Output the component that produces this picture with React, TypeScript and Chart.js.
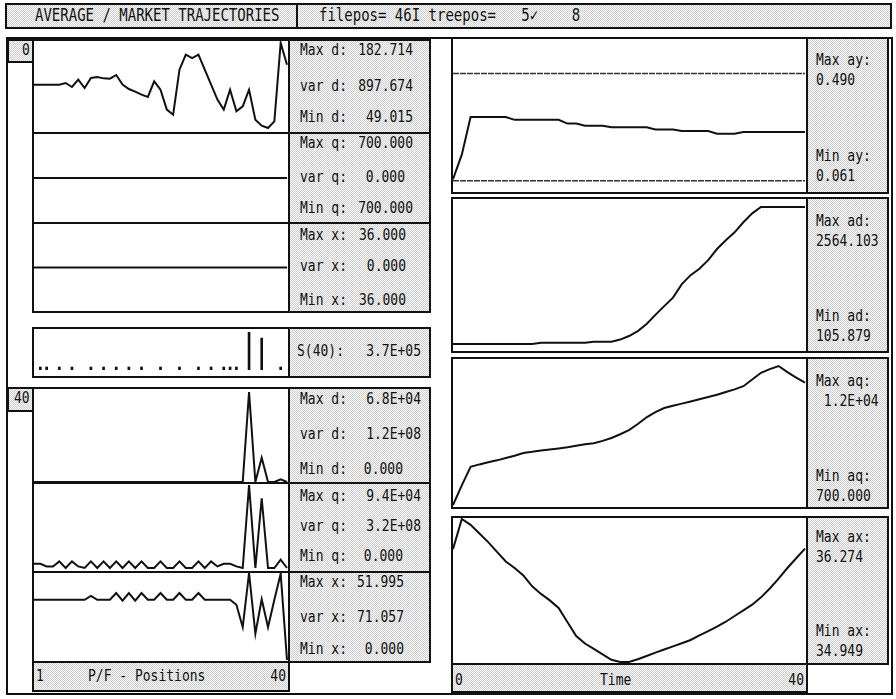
import React, { useEffect, useRef } from "react";
import { Chart, registerables } from "chart.js";

Chart.register(...registerables);

// ---------- data ----------
const POSITIONS = [0, 1, 2, 3, 4, 5, 6, 7, 8, 9, 10, 11, 12, 13, 14, 15, 16, 17, 18, 19, 20, 21, 22, 23, 24, 25, 26, 27, 28, 29, 30, 31, 32, 33, 34, 35, 36, 37, 38, 39, 40];
const TIME = [0, 1, 2, 3, 4, 5, 6, 7, 8, 9, 10, 11, 12, 13, 14, 15, 16, 17, 18, 19, 20, 21, 22, 23, 24, 25, 26, 27, 28, 29, 30, 31, 32, 33, 34, 35, 36, 37, 38, 39, 40];

// average trajectories per position (upper left block)
const AVG_D = [117.2, 117.2, 117.2, 117.2, 117.2, 119.8, 113.5, 125, 111.9, 127.7, 129.2, 127.1, 126.6, 132.4, 117.2, 110.3, 106.2, 101.4, 97.8, 122.4, 109.3, 77.9, 70, 140.8, 164.4, 159.1, 164.4, 140.8, 117.2, 93.6, 77.9, 109.3, 75.2, 83.1, 109.3, 62.1, 52.7, 49.015, 59.5, 182.714, 148.6];
const AVG_Q = [700, 700, 700, 700, 700, 700, 700, 700, 700, 700, 700, 700, 700, 700, 700, 700, 700, 700, 700, 700, 700, 700, 700, 700, 700, 700, 700, 700, 700, 700, 700, 700, 700, 700, 700, 700, 700, 700, 700, 700, 700];
const AVG_X = [36, 36, 36, 36, 36, 36, 36, 36, 36, 36, 36, 36, 36, 36, 36, 36, 36, 36, 36, 36, 36, 36, 36, 36, 36, 36, 36, 36, 36, 36, 36, 36, 36, 36, 36, 36, 36, 36, 36, 36, 36];

// S(40) distribution
const S_POS = [1, 2, 4, 6, 9, 11, 13, 15, 17, 20, 23, 26, 28, 30, 31, 32, 34, 36, 39];
const S_VAL = [5000, 5000, 5000, 5000, 5000, 5000, 5000, 5000, 5000, 5000, 5000, 5000, 5000, 5000, 5000, 5000, 150000, 126000, 5000];

// market positions at t = 40 (lower left block)
const POS_D = [0, 0, 0, 0, 0, 0, 0, 0, 0, 0, 0, 0, 0, 0, 0, 0, 0, 0, 0, 0, 0, 0, 0, 0, 0, 0, 0, 0, 0, 0, 0, 0, 0, 0, 68000, 0, 18400, 0, 0, 2000, 0];
const POS_Q = [4850, 4850, 1800, 1800, 7450, 0, 7450, 1800, 0, 7450, 0, 7450, 0, 7450, 0, 7450, 0, 7450, 0, 0, 7450, 0, 0, 7450, 0, 0, 7450, 0, 7450, 1800, 4850, 4850, 1800, 0, 94000, 0, 79000, 0, 0, 9400, 0];
const POS_X = [36, 36, 36, 36, 36, 36, 36, 36, 36, 38.3, 36, 36, 36, 40, 35.5, 40, 35.5, 40, 36, 36, 40, 36, 36, 40, 36, 36, 40, 36, 36, 36, 36, 36, 33, 19.6, 51.995, 15.7, 36.3, 19.6, 36, 51.6, 0];

// market trajectories over time (right block)
const A_Y = [0.061, 0.23, 0.49, 0.49, 0.49, 0.49, 0.49, 0.47, 0.47, 0.47, 0.47, 0.47, 0.47, 0.444, 0.444, 0.43, 0.43, 0.43, 0.419, 0.419, 0.419, 0.419, 0.419, 0.404, 0.404, 0.404, 0.393, 0.393, 0.393, 0.393, 0.375, 0.375, 0.375, 0.386, 0.386, 0.386, 0.386, 0.386, 0.386, 0.386, 0.386];
const A_Y_UPPER = [0.79, 0.79, 0.79, 0.79, 0.79, 0.79, 0.79, 0.79, 0.79, 0.79, 0.79, 0.79, 0.79, 0.79, 0.79, 0.79, 0.79, 0.79, 0.79, 0.79, 0.79, 0.79, 0.79, 0.79, 0.79, 0.79, 0.79, 0.79, 0.79, 0.79, 0.79, 0.79, 0.79, 0.79, 0.79, 0.79, 0.79, 0.79, 0.79, 0.79, 0.79];
const A_Y_LOWER = [0.05, 0.05, 0.05, 0.05, 0.05, 0.05, 0.05, 0.05, 0.05, 0.05, 0.05, 0.05, 0.05, 0.05, 0.05, 0.05, 0.05, 0.05, 0.05, 0.05, 0.05, 0.05, 0.05, 0.05, 0.05, 0.05, 0.05, 0.05, 0.05, 0.05, 0.05, 0.05, 0.05, 0.05, 0.05, 0.05, 0.05, 0.05, 0.05, 0.05, 0.05];
const A_D = [105.879, 105.879, 105.879, 105.879, 105.879, 105.879, 105.879, 105.879, 105.879, 105.879, 129, 129, 129, 129, 129, 129, 147, 147, 147, 185, 249, 338, 464, 628, 786, 938, 1180, 1341, 1457, 1610, 1810, 1968, 2110, 2290, 2450, 2564.103, 2564.103, 2564.103, 2564.103, 2564.103, 2564.103];
const A_Q = [700, 2300, 3800, 4000, 4180, 4330, 4520, 4710, 4930, 5020, 5130, 5210, 5300, 5390, 5510, 5630, 5720, 5910, 6150, 6450, 6790, 7280, 7830, 8250, 8580, 8770, 8940, 9120, 9300, 9480, 9660, 9880, 10100, 10360, 10900, 11450, 11750, 12000, 11500, 11050, 10640];
const A_X = [35.995, 36.274, 36.22, 36.14, 36.06, 35.97, 35.88, 35.82, 35.75, 35.65, 35.58, 35.52, 35.45, 35.32, 35.19, 35.12, 35.07, 35.02, 34.97, 34.949, 34.949, 34.974, 35.005, 35.036, 35.065, 35.094, 35.123, 35.153, 35.195, 35.236, 35.277, 35.322, 35.375, 35.428, 35.48, 35.548, 35.63, 35.722, 35.82, 35.91, 36.0];

// ---------- styling ----------
const INK = "#111111";
const FONT = '"DejaVu Sans Mono", "Liberation Mono", monospace';
const STIPPLE = "repeating-conic-gradient(#d2d2d2 0% 25%, #f6f6f6 0% 50%) 0 0 / 2px 2px";

type Pad = { top: number; bottom: number; left: number; right: number };

function lineConfig(xs: number[], series: { data: number[]; dash?: number[]; width?: number; color?: string }[], yMin: number, yMax: number, pad: Pad): any {
  return {
    type: "line",
    data: {
      datasets: series.map((s) => ({
        data: s.data.map((v, i) => ({ x: xs[i], y: v })),
        borderColor: s.color || INK,
        borderWidth: s.width || 2,
        borderDash: s.dash || [],
        pointRadius: 0,
        tension: 0,
        fill: false,
        clip: false,
      })),
    },
    options: {
      animation: false,
      responsive: false,
      events: [],
      layout: { padding: pad },
      plugins: { legend: { display: false }, tooltip: { enabled: false } },
      scales: {
        x: { type: "linear", min: 0, max: 40, display: false },
        y: { type: "linear", min: yMin, max: yMax, display: false },
      },
    },
  };
}

function barConfig(xs: number[], vals: number[], yMax: number, pad: Pad): any {
  return {
    type: "bar",
    data: {
      datasets: [
        {
          data: vals.map((v, i) => ({ x: xs[i], y: v })),
          backgroundColor: INK,
          borderWidth: 0,
          barThickness: 2,
          minBarLength: 3,
        },
      ],
    },
    options: {
      animation: false,
      responsive: false,
      events: [],
      layout: { padding: pad },
      plugins: { legend: { display: false }, tooltip: { enabled: false } },
      scales: {
        x: { type: "linear", min: 0, max: 40, display: false, offset: false },
        y: { type: "linear", min: 0, max: yMax, display: false },
      },
    },
  };
}

function ChartBox(props: { left: number; top: number; width: number; height: number; make: () => any }) {
  const ref = useRef<HTMLCanvasElement | null>(null);
  useEffect(() => {
    const chart = new Chart(ref.current as HTMLCanvasElement, props.make());
    return () => chart.destroy();
  }, []);
  const w = props.width - 4;
  const h = props.height - 4;
  return (
    <div style={{ position: "absolute", left: props.left, top: props.top, width: props.width, height: props.height, border: `2px solid ${INK}`, boxSizing: "border-box", background: "#fff" }}>
      <canvas ref={ref} width={w} height={h} style={{ display: "block", width: w, height: h }} />
    </div>
  );
}

function Box(props: { left: number; top: number; width: number; height: number; stipple?: boolean }) {
  return (
    <div style={{ position: "absolute", left: props.left, top: props.top, width: props.width, height: props.height, border: `2px solid ${INK}`, boxSizing: "border-box", background: props.stipple === false ? "transparent" : STIPPLE }} />
  );
}

function Txt(props: { x?: number; right?: number; cy: number; children: string; size?: number }) {
  const size = props.size || 13;
  const style: any = {
    position: "absolute",
    top: props.cy - 9,
    height: 18,
    lineHeight: "18px",
    font: `${size}px ${FONT}`,
    color: INK,
    whiteSpace: "pre",
    transform: "scaleY(1.2)",
    transformOrigin: "center",
  };
  if (props.right !== undefined) style.right = 896 - props.right;
  else style.left = props.x;
  return <div style={style}>{props.children}</div>;
}

const LX = { left: 0, right: 1 };

export default function App() {
  const leftStats: [string, string, number, number][] = [
    ["Max d:", "182.714", 51, 413],
    ["var d:", "897.674", 87, 413],
    ["Min d:", "49.015", 118, 413],
    ["Max q:", "700.000", 144, 413],
    ["var q:", "0.000", 178, 405],
    ["Min q:", "700.000", 209, 413],
    ["Max x:", "36.000", 236, 406],
    ["var x:", "0.000", 267, 406],
    ["Min x:", "36.000", 301, 406],
    ["Max d:", "6.8E+04", 400, 421],
    ["var d:", "1.2E+08", 435, 421],
    ["Min d:", "0.000", 470, 403],
    ["Max q:", "9.4E+04", 497, 421],
    ["var q:", "3.2E+08", 527, 421],
    ["Min q:", "0.000", 557, 403],
    ["Max x:", "51.995", 583, 404],
    ["var x:", "71.057", 618, 404],
    ["Min x:", "0.000", 650, 404],
  ];
  const rightStats: [string, number][] = [
    ["Max ay:", 61], ["0.490", 81], ["Min ay:", 157], ["0.061", 177],
    ["Max ad:", 222], ["2564.103", 242], ["Min ad:", 317], ["105.879", 337],
    ["Max aq:", 382], [" 1.2E+04", 402], ["Min aq:", 477], ["700.000", 497],
    ["Max ax:", 538], ["36.274", 558], ["Min ax:", 632], ["34.949", 652],
  ];

  return (
    <div style={{ position: "absolute", left: 0, top: 0, width: 896, height: 699, background: "#fff", overflow: "hidden" }}>
      {/* header */}
      <Box left={5} top={3} width={293} height={26} />
      <Box left={296} top={3} width={596} height={26} />
      <Txt x={35} cy={16} size={14}>AVERAGE / MARKET TRAJECTORIES</Txt>
      <Txt x={319} cy={16} size={14}>{"filepos= 46I treepos=   5\u2713    8"}</Txt>

      {/* outer frame */}
      <Box left={6} top={37} width={887} height={658} stipple={false} />

      {/* upper left block: average trajectories over positions */}
      <Box left={7} top={39} width={27} height={24} />
      <Txt x={22} cy={51}>0</Txt>
      <ChartBox left={32} top={39} width={258} height={95} make={() => lineConfig(POSITIONS, [{ data: AVG_D }], 49.015, 182.714, { top: 2, bottom: 4, ...LX })} />
      <ChartBox left={32} top={132} width={258} height={92} make={() => lineConfig(POSITIONS, [{ data: AVG_Q }], 699, 701, { top: 0, bottom: 0, ...LX })} />
      <ChartBox left={32} top={222} width={258} height={91} make={() => lineConfig(POSITIONS, [{ data: AVG_X }], 35, 37, { top: 0, bottom: 0, ...LX })} />
      <Box left={288} top={39} width={143} height={95} />
      <Box left={288} top={132} width={143} height={92} />
      <Box left={288} top={222} width={143} height={91} />

      {/* S(40) */}
      <ChartBox left={32} top={327} width={258} height={51} make={() => barConfig(S_POS, S_VAL, 150000, { top: 3, bottom: 6, ...LX })} />
      <Box left={288} top={327} width={143} height={51} />
      <Txt x={297} cy={352}>S(40):</Txt>
      <Txt right={421} cy={352}>3.7E+05</Txt>

      {/* lower left block: positions */}
      <Box left={7} top={387} width={27} height={25} />
      <Txt x={14} cy={399}>40</Txt>
      <ChartBox left={32} top={387} width={258} height={97} make={() => lineConfig(POSITIONS, [{ data: POS_D }], 0, 68000, { top: 3, bottom: 0, ...LX })} />
      <ChartBox left={32} top={482} width={258} height={91} make={() => lineConfig(POSITIONS, [{ data: POS_Q }], 0, 94000, { top: 1, bottom: 3, ...LX })} />
      <ChartBox left={32} top={571} width={258} height={92} make={() => lineConfig(POSITIONS, [{ data: POS_X }], 0, 51.995, { top: 0, bottom: 1, ...LX })} />
      <Box left={288} top={387} width={143} height={97} />
      <Box left={288} top={482} width={143} height={91} />
      <Box left={288} top={571} width={143} height={92} />
      <Box left={32} top={661} width={258} height={31} />
      <Txt x={36} cy={677}>1</Txt>
      <Txt x={88} cy={677}>P/F - Positions</Txt>
      <Txt right={286} cy={677}>40</Txt>

      {leftStats.map(([l, v, cy, r], i) => (
        <React.Fragment key={"ls" + i}>
          <Txt x={300} cy={cy}>{l}</Txt>
          <Txt right={r} cy={cy}>{v}</Txt>
        </React.Fragment>
      ))}

      {/* right block: market trajectories over time */}
      <ChartBox left={451} top={37} width={357} height={157} make={() => lineConfig(TIME, [{ data: A_Y_UPPER, dash: [6, 1], width: 1.5, color: "#333" }, { data: A_Y_LOWER, dash: [6, 1], width: 1.5, color: "#333" }, { data: A_Y }], 0, 1, { top: 4, bottom: 4, ...LX })} />
      <ChartBox left={451} top={197} width={357} height={156} make={() => lineConfig(TIME, [{ data: A_D }], 105.879, 2564.103, { top: 8, bottom: 7, ...LX })} />
      <ChartBox left={451} top={357} width={357} height={152} make={() => lineConfig(TIME, [{ data: A_Q }], 700, 12000, { top: 7, bottom: 2, ...LX })} />
      <ChartBox left={451} top={516} width={357} height={149} make={() => lineConfig(TIME, [{ data: A_X }], 34.949, 36.274, { top: 1, bottom: 1, ...LX })} />
      <Box left={806} top={37} width={83} height={157} />
      <Box left={806} top={197} width={83} height={156} />
      <Box left={806} top={357} width={83} height={152} />
      <Box left={806} top={516} width={83} height={149} />
      {rightStats.map(([t, cy], i) => (
        <Txt key={"rs" + i} x={816} cy={cy}>{t}</Txt>
      ))}
      <Box left={451} top={663} width={357} height={30} />
      <Txt x={455} cy={681}>0</Txt>
      <Txt x={600} cy={681}>Time</Txt>
      <Txt right={804} cy={681}>40</Txt>
    </div>
  );
}
